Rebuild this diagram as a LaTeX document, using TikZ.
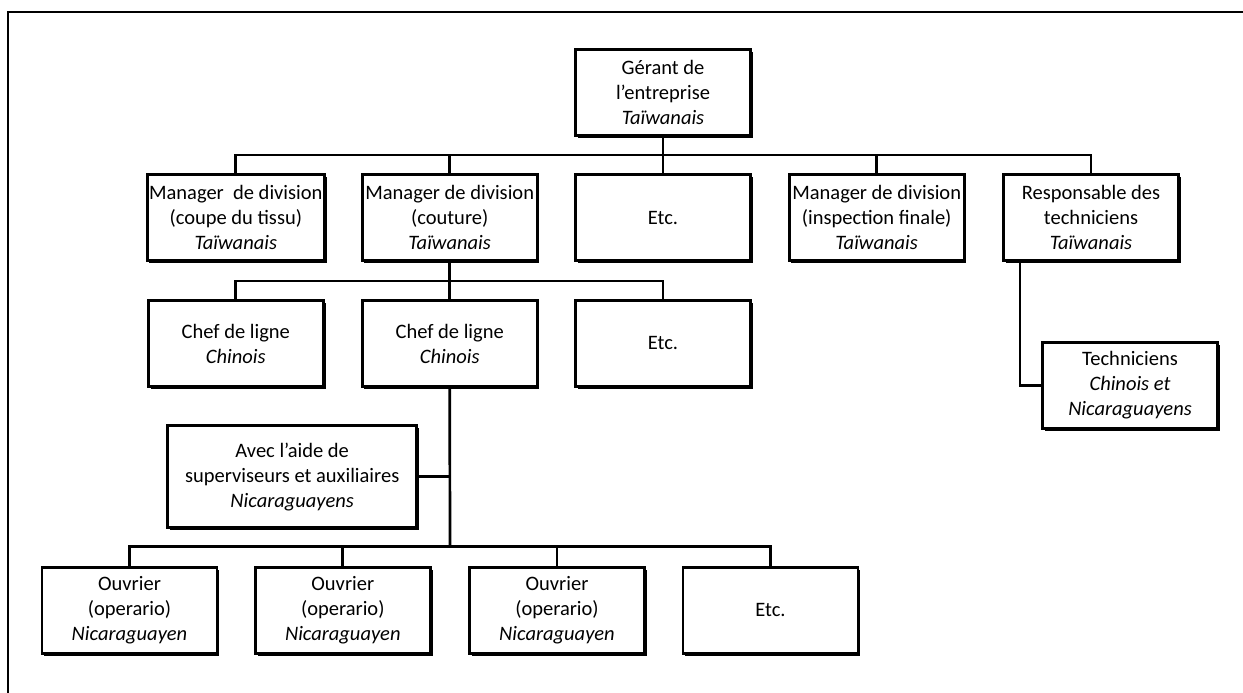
\documentclass[tikz,border=0pt]{standalone}
\usepackage{fontspec}
\setmainfont{Carlito}
\usetikzlibrary{arrows,shapes,shadows}

\tikzset{
  poste/.style={draw, line width=2.8pt, fill=white, align=center,
    minimum width=175pt, minimum height=86pt, inner sep=2pt,
    font=\fontsize{20.5}{25}\selectfont,
    drop shadow={shadow xshift=2.2pt, shadow yshift=-2.6pt, fill=black, opacity=1}},
  lien/.style={line width=2.7pt},
}

\begin{document}
\begin{tikzpicture}[x=1pt,y=1pt]
    \useasboundingbox (0,0) rectangle (1243,693);
    \draw[line width=2.2pt] (7.7,0) |- (1243,681);

    \node[poste] (ger) at (663,600.5) {Gérant de\\l’entreprise\\\textit{Taïwanais}};

    \node[poste] (m1) at (235.8,475.2) {Manager\ \ de division\\(coupe du tissu)\\\textit{Taïwanais}};
    \node[poste] (m2) at (449.7,475.2) {Manager de division\\(couture)\\\textit{Taïwanais}};
    \node[poste] (e1) at (663,475.2) {Etc.};
    \node[poste] (m3) at (876.7,475.2) {Manager de division\\(inspection finale)\\\textit{Taïwanais}};
    \node[poste] (resp) at (1091,475.2) {Responsable des\\techniciens\\\textit{Taïwanais}};

    \node[poste] (c1) at (235.8,349.5) {Chef de ligne\\\textit{Chinois}};
    \node[poste] (c2) at (449.7,349.5) {Chef de ligne\\\textit{Chinois}};
    \node[poste] (e2) at (663,349.5) {Etc.};
    \node[poste] (tech) at (1130,307.6) {Techniciens\\\textit{Chinois et}\\\textit{Nicaraguayens}};

    \node[poste, minimum width=249pt, minimum height=102pt] (avec) at (292.2,216.2)
        {Avec l’aide de\\superviseurs et auxiliaires\\\textit{Nicaraguayens}};

    \node[poste] (o1) at (129.5,82.6) {Ouvrier\\(operario)\\\textit{Nicaraguayen}};
    \node[poste] (o2) at (342.8,82.6) {Ouvrier\\(operario)\\\textit{Nicaraguayen}};
    \node[poste] (o3) at (557,82.6) {Ouvrier\\(operario)\\\textit{Nicaraguayen}};
    \node[poste] (e3) at (770.5,82.6) {Etc.};

    % liens
    \coordinate (b1) at (663,538);
    \coordinate (b2) at (449.7,412);
    \coordinate (b3) at (450,146.3);
    \draw[lien] (ger.south) -- (b1);
    \draw[lien] (m1.north) |- (b1) -| (resp.north);
    \foreach \n in {m2,e1,m3}
        \draw[lien] (\n.north) -- (\n.north |- b1);
    \draw[lien] (m2.south) -- (c2.north);
    \draw[lien] (c1.north) |- (b2) -| (e2.north);
    \draw[lien] (c2.south) -- (b3);
    \draw[lien] (avec.east) -- (avec.east -| b3);
    \draw[lien] (o1.north) |- (b3) -| (e3.north);
    \foreach \n in {o2,o3}
        \draw[lien] (\n.north) -- (\n.north |- b3);
    \draw[lien] ([xshift=18pt]resp.south west) |- (tech.west);
\end{tikzpicture}
\end{document}
